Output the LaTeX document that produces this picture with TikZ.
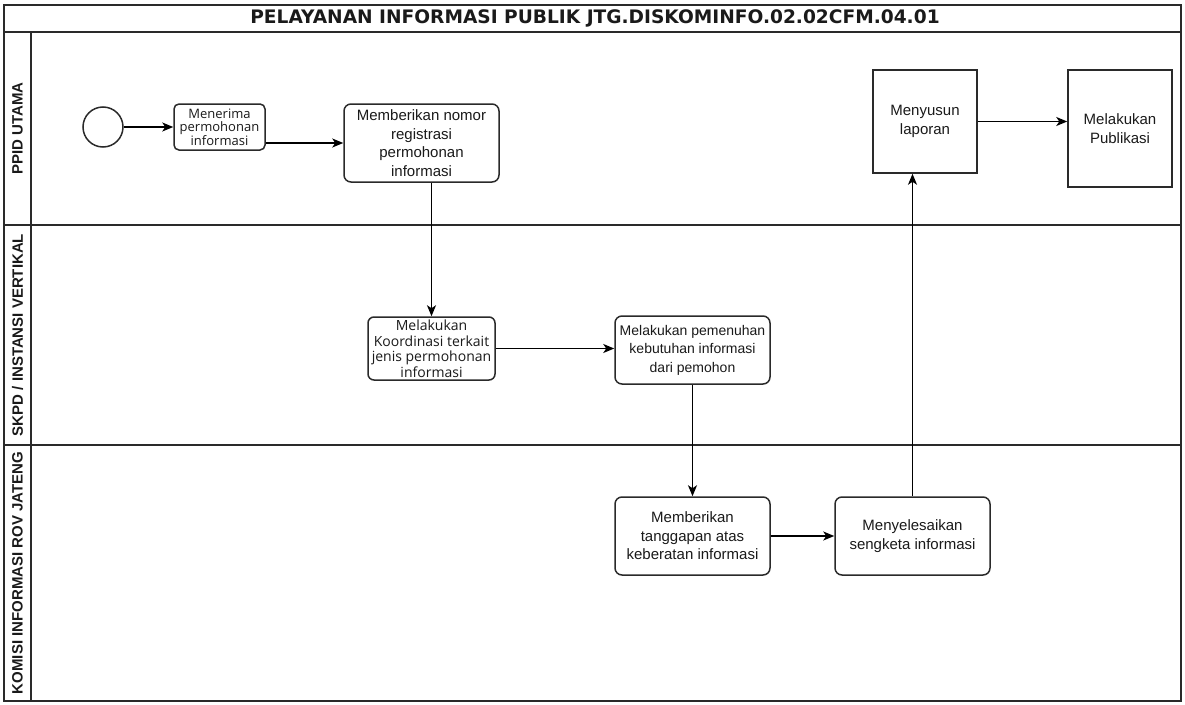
\documentclass[tikz,border=0pt]{standalone}
\usepackage{fontspec}
\setmainfont{Liberation Sans}
\newfontfamily\opensans{Open Sans}
\newfontfamily\titlefont{DejaVu Sans}
\usetikzlibrary{arrows.meta,positioning,calc}
\definecolor{ink}{HTML}{1A1A1A}
\definecolor{rule}{HTML}{2A2A2A}

\begin{document}
\begin{tikzpicture}[x=1pt,y=-1pt,text=ink,
 lane/.style={draw=rule,line width=1.5pt},
 lanelabel/.style={rotate=90,font=\bfseries\fontsize{15}{17}\selectfont},
 task/.style={draw=rule,line width=1.5pt,rounded corners=7pt,fill=white,align=center,inner sep=0pt,font=\fontsize{15}{18.5}\selectfont},
 sqtask/.style={task,rounded corners=0pt},
 arrow/.style={-{Stealth[length=11pt,width=9pt,inset=3pt]},draw=black,line width=1.4pt}]
\path[use as bounding box] (0,0) rectangle (1185,704);
% pool and lanes
\draw[lane] (4,5) rectangle (1181,701);
\draw[lane] (4,32)--(1181,32);
\draw[lane] (31,32)--(31,701);
\draw[lane] (4,225)--(1181,225);
\draw[lane] (4,445)--(1181,445);
\node[font=\titlefont\bfseries\fontsize{18.6}{20}\selectfont] (title) at (595,18.5) {PELAYANAN INFORMASI PUBLIK JTG.DISKOMINFO.02.02CFM.04.01};
\node[lanelabel] (ppid) at (17.5,128.5) {PPID UTAMA};
\node[lanelabel] (skpd) at (17.5,335) {SKPD / INSTANSI VERTIKAL};
\node[lanelabel] (komisi) at (17.5,573) {KOMISI INFORMASI ROV JATENG};
% PPID utama
\node[draw=rule,line width=1.5pt,circle,minimum size=40pt,inner sep=0pt] (start) at (103,127) {};
\node[task,rounded corners=5pt,minimum width=91pt,minimum height=46pt,font=\opensans\fontsize{13}{13.7}\selectfont] (terima) at (219.5,127) {Menerima\\permohonan\\informasi};
\node[task,minimum width=155pt,minimum height=78pt] (nomor) at (421.5,143) {Memberikan nomor\\registrasi\\permohonan\\informasi};
\node[sqtask,minimum width=104pt,minimum height=103pt] (susun) at (925,121.5) {Menyusun\\laporan};
\node[sqtask,minimum width=104pt,minimum height=117pt] (publik) at (1120,128.5) {Melakukan\\Publikasi};
% SKPD / instansi vertikal
\node[task,rounded corners=6pt,minimum width=127pt,minimum height=63pt,font=\opensans\fontsize{14}{15.5}\selectfont] (koord) at (431.5,348.5) {Melakukan\\Koordinasi terkait\\jenis permohonan\\informasi};
\node[task,minimum width=155pt,minimum height=68pt,font=\fontsize{14}{18.5}\selectfont] (penuhi) at (692.5,350) {Melakukan pemenuhan\\kebutuhan informasi\\dari pemohon};
% komisi informasi
\node[task,minimum width=155pt,minimum height=78pt] (tanggap) at (692.5,536) {Memberikan\\tanggapan atas\\keberatan informasi};
\node[task,minimum width=155pt,minimum height=78pt] (selesai) at (912.5,536) {Menyelesaikan\\sengketa informasi};
% flow
\draw[arrow] (start)--(terima);
\draw[arrow] (terima.east |- nomor.west)--(nomor.west);
\draw[arrow] (nomor.south -| koord.north)--(koord.north);
\draw[arrow] (koord.east)--(koord.east -| penuhi.west);
\draw[arrow] (penuhi)--(tanggap);
\draw[arrow] (tanggap)--(selesai);
\draw[arrow] (selesai.north)--(selesai.north |- susun.south);
\draw[arrow] (susun.east)--(susun.east -| publik.west);
\end{tikzpicture}
\end{document}
